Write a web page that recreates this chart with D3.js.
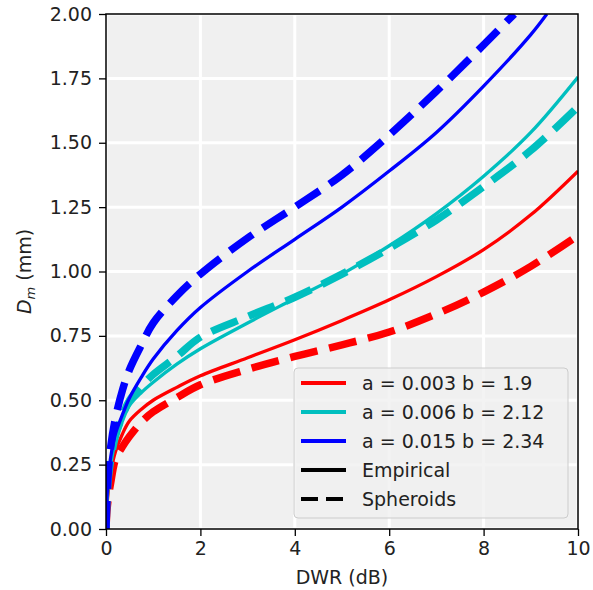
<!DOCTYPE html>
<html lang="en">
    <head>
        <meta charset="utf-8">
        <title>Dm vs DWR</title>
        <script src="https://d3js.org/d3.v7.min.js"></script>
        <style>
            body { margin: 0; background: #ffffff; }
            text { font-family: "DejaVu Sans", sans-serif; }
        </style>
    </head>
    <body>
        <script type="text/javascript">

            //x values (DWR in dB) shared by red and cyan curves
            var dwr = [0, 0.02, 0.05, 0.1, 0.2, 0.35, 0.5, 0.75, 1, 1.5, 2, 3, 4, 5, 6, 7, 8, 9, 10];

            //Dm (mm)
            var redEmp  = [0, 0.09, 0.15, 0.22, 0.30, 0.37, 0.42, 0.465, 0.50, 0.55, 0.595, 0.665, 0.735, 0.81, 0.89, 0.98, 1.085, 1.22, 1.39];
            var redSph  = [0, 0.07, 0.12, 0.18, 0.27, 0.32, 0.36, 0.415, 0.455, 0.51, 0.56, 0.62, 0.67, 0.715, 0.765, 0.835, 0.92, 1.02, 1.14];
            var cyanEmp = [0, 0.10, 0.17, 0.25, 0.34, 0.42, 0.48, 0.53, 0.57, 0.64, 0.70, 0.80, 0.895, 0.99, 1.10, 1.225, 1.37, 1.54, 1.755];
            var cyanSph = [0, 0.12, 0.20, 0.27, 0.36, 0.44, 0.50, 0.555, 0.60, 0.67, 0.745, 0.825, 0.90, 0.99, 1.09, 1.20, 1.33, 1.47, 1.64];

            //blue curves leave the frame before 10 dB
            var dwrBlueEmp = [0, 0.02, 0.05, 0.1, 0.2, 0.35, 0.5, 0.75, 1, 1.5, 2, 3, 4, 5, 6, 7, 8, 9, 9.34];
            var blueEmp    = [0, 0.12, 0.20, 0.28, 0.37, 0.445, 0.51, 0.59, 0.66, 0.77, 0.86, 1.00, 1.125, 1.25, 1.39, 1.54, 1.72, 1.92, 2.0];
            var dwrBlueSph = [0, 0.02, 0.05, 0.1, 0.2, 0.35, 0.5, 0.75, 1, 1.5, 2, 3, 4, 5, 6, 7, 8, 8.65];
            var blueSph    = [0, 0.12, 0.22, 0.32, 0.43, 0.54, 0.62, 0.715, 0.80, 0.905, 0.99, 1.13, 1.25, 1.375, 1.53, 1.70, 1.88, 2.0];

            //legend labels and tick values
            var legendLabels = ["a = 0.003 b = 1.9", "a = 0.006 b = 2.12", "a = 0.015 b = 2.34", "Empirical", "Spheroids"];
            var xTicks = [0, 2, 4, 6, 8, 10];
            var yTicks = [0, 0.25, 0.5, 0.75, 1.0, 1.25, 1.5, 1.75, 2.0];

            var colors = {red: "#ff0000", cyan: "#00bfbf", blue: "#0000ff"};

            //series list built from the arrays above
            var series = [
                {x: dwr, y: redEmp, color: colors.red, dashed: false},
                {x: dwr, y: redSph, color: colors.red, dashed: true},
                {x: dwr, y: cyanEmp, color: colors.cyan, dashed: false},
                {x: dwr, y: cyanSph, color: colors.cyan, dashed: true},
                {x: dwrBlueEmp, y: blueEmp, color: colors.blue, dashed: false},
                {x: dwrBlueSph, y: blueSph, color: colors.blue, dashed: true}
            ];

            var margin = {top: 14, right: 15, bottom: 61, left: 106};
            var width = 593 - margin.left - margin.right;
            var height = 590 - margin.top - margin.bottom;

            var svg = d3.select("body")
                .append("svg")
                .attr("width", 593)
                .attr("height", 590);

            var g = svg.append("g")
                .attr("transform", "translate(" + margin.left + "," + margin.top + ")");

            var xScale = d3.scaleLinear().domain([0, 10]).range([0, width]);
            var yScale = d3.scaleLinear().domain([0, 2]).range([height, 0]);

            //axes background
            g.append("rect")
                .attr("width", width)
                .attr("height", height)
                .attr("fill", "#f0f0f0");

            //white grid
            g.selectAll(".vgrid")
                .data(xTicks)
                .enter()
                .append("line")
                .attr("x1", function(d) { return xScale(d); })
                .attr("x2", function(d) { return xScale(d); })
                .attr("y1", 0)
                .attr("y2", height)
                .attr("stroke", "#ffffff")
                .attr("stroke-width", 3);

            g.selectAll(".hgrid")
                .data(yTicks)
                .enter()
                .append("line")
                .attr("x1", 0)
                .attr("x2", width)
                .attr("y1", function(d) { return yScale(d); })
                .attr("y2", function(d) { return yScale(d); })
                .attr("stroke", "#ffffff")
                .attr("stroke-width", 3);

            svg.append("defs")
                .append("clipPath")
                .attr("id", "plotclip")
                .append("rect")
                .attr("width", width)
                .attr("height", height);

            var line = d3.line()
                .x(function(d) { return xScale(d[0]); })
                .y(function(d) { return yScale(d[1]); })
                .curve(d3.curveCatmullRom.alpha(0.5));

            var curves = g.append("g").attr("clip-path", "url(#plotclip)");

            series.forEach(function(s) {
                var pts = s.x.map(function(v, i) { return [v, s.y[i]]; });
                curves.append("path")
                    .attr("d", line(pts))
                    .attr("fill", "none")
                    .attr("stroke", s.color)
                    .attr("stroke-width", s.dashed ? 7.5 : 3.3)
                    .attr("stroke-dasharray", s.dashed ? "28,12" : null);
            });

            //frame
            g.append("rect")
                .attr("width", width)
                .attr("height", height)
                .attr("fill", "none")
                .attr("stroke", "#000000")
                .attr("stroke-width", 1.5);

            //x Axis
            var xAxis = g.append("g")
                .attr("transform", "translate(0," + height + ")")
                .call(d3.axisBottom(xScale).tickValues(xTicks).tickFormat(d3.format("d"))
                    .tickSize(7).tickSizeOuter(0).tickPadding(6));

            //y Axis
            var yAxis = g.append("g")
                .call(d3.axisLeft(yScale).tickValues(yTicks).tickFormat(d3.format(".2f"))
                    .tickSize(7).tickSizeOuter(0).tickPadding(7));

            [xAxis, yAxis].forEach(function(ax) {
                ax.select(".domain").remove();
                ax.selectAll("line").attr("stroke", "#000000").attr("stroke-width", 1.3);
                ax.selectAll("text")
                    .attr("font-family", "DejaVu Sans")
                    .attr("font-size", "19px")
                    .attr("fill", "#222222");
            });

            //axis labels
            svg.append("text")
                .attr("x", margin.left + width / 2)
                .attr("y", 584)
                .attr("text-anchor", "middle")
                .attr("font-size", "19px")
                .attr("fill", "#222222")
                .text("DWR (dB)");

            var ylab = svg.append("text")
                .attr("transform", "translate(31," + (margin.top + height / 2) + ") rotate(-90)")
                .attr("text-anchor", "middle")
                .attr("font-size", "19px")
                .attr("fill", "#222222");
            ylab.append("tspan").attr("font-style", "italic").text("D");
            ylab.append("tspan").attr("font-style", "italic").attr("font-size", "13px").attr("dy", "4").text("m");
            ylab.append("tspan").attr("dy", "-4").text(" (mm)");

            //legend
            var legend = svg.append("g").attr("transform", "translate(294,368)");

            legend.append("rect")
                .attr("width", 274)
                .attr("height", 150)
                .attr("rx", 4)
                .attr("fill", "#f0f0f0")
                .attr("fill-opacity", 0.8)
                .attr("stroke", "#cccccc")
                .attr("stroke-width", 1);

            var legendColors = [colors.red, colors.cyan, colors.blue, "#000000", "#000000"];

            legendLabels.forEach(function(lab, i) {
                var yy = 15 + i * 29;
                legend.append("line")
                    .attr("x1", 7)
                    .attr("x2", 52)
                    .attr("y1", yy)
                    .attr("y2", yy)
                    .attr("stroke", legendColors[i])
                    .attr("stroke-width", 4)
                    .attr("stroke-dasharray", i == 4 ? "17,8" : null);
                legend.append("text")
                    .attr("x", 68)
                    .attr("y", yy)
                    .attr("dy", "0.36em")
                    .attr("font-size", "19px")
                    .attr("fill", "#222222")
                    .text(lab);
            });

        </script>
    </body>
</html>
